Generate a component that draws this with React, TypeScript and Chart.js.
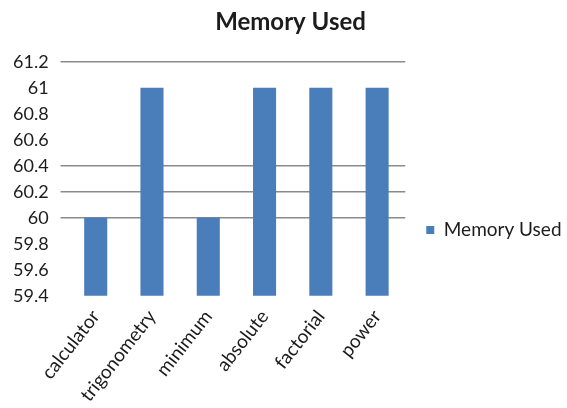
import React, { useEffect, useRef } from "react";
import { Chart, registerables } from "chart.js";

Chart.register(...registerables);

const categories = ["calculator", "trigonometry", "minimum", "absolute", "factorial", "power"];
const memoryUsed = [60, 61, 60, 61, 61, 61];
const seriesName = "Memory Used";
const yMin = 59.4;
const yMax = 61.2;
const yStep = 0.2;
// horizontal gridlines drawn on the value axis
const gridValues = [61.2, 60.4, 60.2, 60];

const FONT = "Lato, 'Open Sans', sans-serif";
const TEXT = "#1c1c1c";
const GRID = "#8a8a8a";
const BAR = "#4a7ebb";

// nudges the legend and title boxes after layout
const LEGEND_DX = 9;
const LEGEND_DY = 24;
const TITLE_DX = 20;
const boxNudge = {
  id: "boxNudge",
  afterLayout(chart: any) {
    const lg = chart.legend;
    if (lg) {
      lg.left += LEGEND_DX;
      lg.right = chart.width;
      lg.width = lg.right - lg.left;
      lg.top += LEGEND_DY;
      lg.bottom += LEGEND_DY;
    }
    const tt = chart.titleBlock;
    if (tt) {
      tt.left += TITLE_DX;
      tt.right += TITLE_DX;
    }
  },
};

export default function App() {
  const ref = useRef<HTMLCanvasElement | null>(null);

  useEffect(() => {
    document.body.style.margin = "0";
    const canvas = ref.current;
    if (!canvas) return;
    const showGrid = (v: number) => gridValues.some((g) => Math.abs(g - v) < 1e-6);
    const chart = new Chart(canvas, {
      type: "bar",
      data: {
        labels: categories,
        datasets: [
          {
            label: seriesName,
            data: memoryUsed,
            backgroundColor: BAR,
            borderWidth: 0,
            barPercentage: 0.41,
            categoryPercentage: 1,
          },
        ],
      },
      plugins: [boxNudge],
      options: {
        animation: false,
        responsive: false,
        maintainAspectRatio: false,
        layout: { padding: { left: 1, right: 27, top: 4, bottom: 0 } },
        plugins: {
          title: {
            display: true,
            text: "Memory Used",
            color: TEXT,
            font: { family: FONT, size: 24, weight: "bold" },
            padding: { top: 4, bottom: 25 },
          },
          legend: {
            position: "right",
            labels: {
              color: TEXT,
              font: { family: FONT, size: 19 },
              boxWidth: 8,
              boxHeight: 8,
              padding: 12,
            },
          },
          tooltip: { enabled: false },
        },
        scales: {
          x: {
            grid: { display: false },
            border: { display: false },
            ticks: {
              color: TEXT,
              font: { family: FONT, size: 19 },
              maxRotation: 52,
              minRotation: 52,
              padding: 2,
            },
          },
          y: {
            min: yMin,
            max: yMax,
            border: { display: false },
            grid: {
              color: (ctx: any) => (showGrid(ctx.tick?.value) ? GRID : "rgba(0,0,0,0)"),
              tickColor: (ctx: any) => (showGrid(ctx.tick?.value) ? GRID : "rgba(0,0,0,0)"),
              tickLength: 7,
              lineWidth: 1.5,
            },
            ticks: {
              stepSize: yStep,
              color: TEXT,
              font: { family: FONT, size: 18 },
              padding: 12,
              callback: (v: any) => String(Number(Number(v).toFixed(1))),
            },
          },
        },
      },
    });
    return () => chart.destroy();
  }, []);

  return (
    <div style={{ position: "absolute", left: 0, top: 0, width: 567, height: 408, background: "#fff" }}>
      <canvas ref={ref} width={567} height={408} />
    </div>
  );
}
